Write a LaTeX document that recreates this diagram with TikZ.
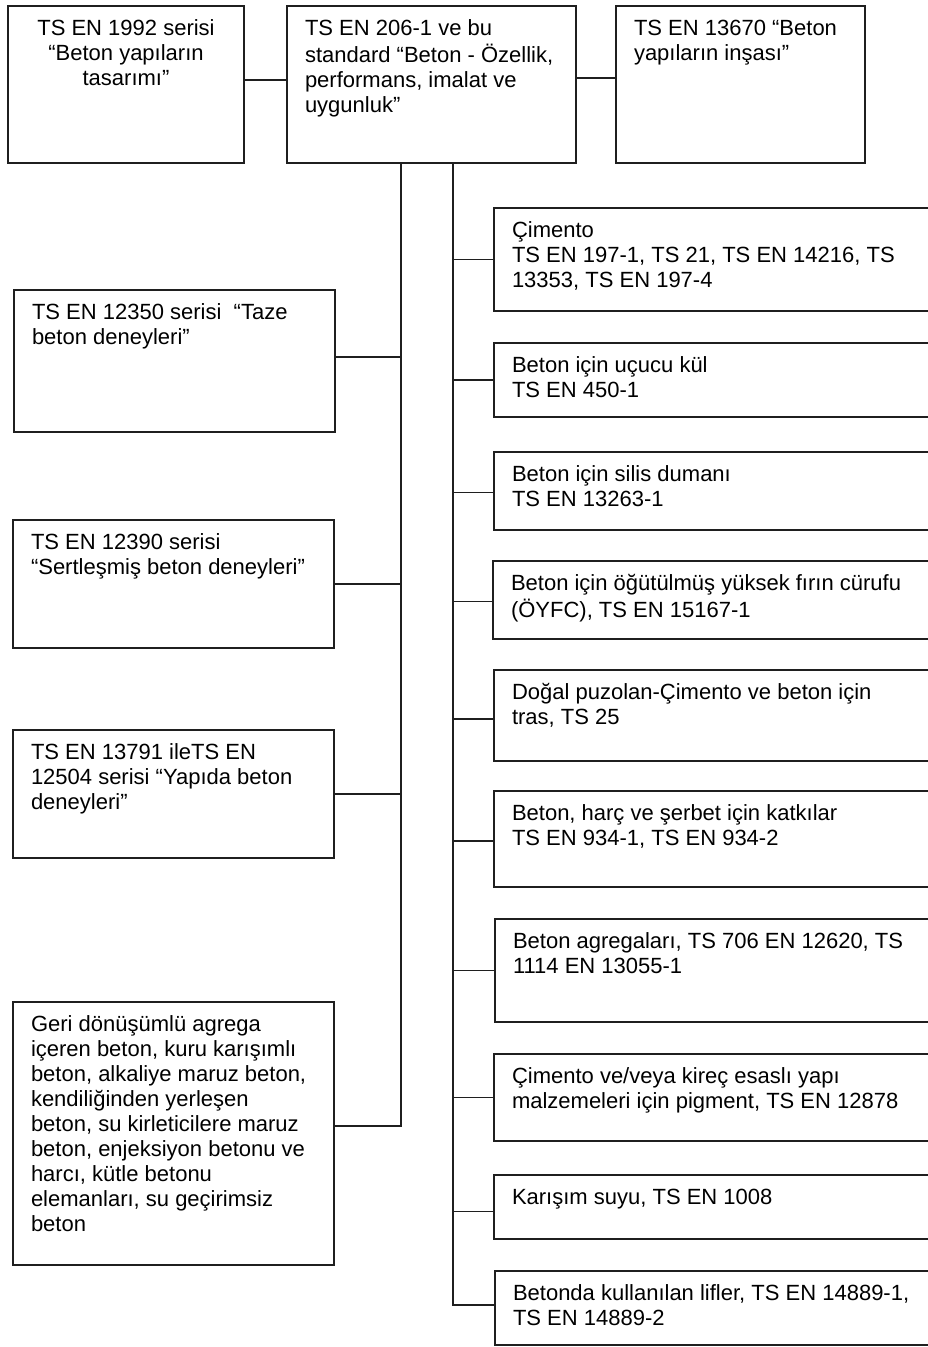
\documentclass[tikz,border=0pt]{standalone}
\usepackage{fontspec}
\setmainfont{Liberation Sans}
\begin{document}
\begin{tikzpicture}[x=1pt,y=-1pt,
  box/.style={draw=black!88, line width=1.2pt, rectangle, inner sep=0pt, outer sep=0pt, anchor=north west},
  label/.style={inner sep=0pt, outer sep=0pt, align=left, anchor=north west, font=\fontsize{22}{25}\selectfont},
  link/.style={draw=black!88, line width=1.2pt}]
\useasboundingbox (0,0) rectangle (928,1347);
\fill[white] (0,0) rectangle (928,1347);
\clip (0,0) rectangle (928,1347);

% top row
\node[box, minimum width=236pt, minimum height=157pt] (A) at (8,6) {};
\node[box, minimum width=289pt, minimum height=157pt] (B) at (287,6) {};
\node[box, minimum width=249pt, minimum height=157pt] (C) at (616,6) {};
\node[label, align=center, anchor=north] (At) at (126,18) {\strut TS EN 1992 serisi\\“Beton yapıların\\tasarımı”};
\node[label] (Bt) at (305,18) {\strut TS EN 206-1 ve bu\\standard “Beton - Özellik,\\performans, imalat ve\\uygunluk”};
\node[label] (Ct) at (634,18) {\strut TS EN 13670 “Beton\\yapıların inşası”};

% left column: test standards
\node[box, minimum width=321pt, minimum height=142pt] (L1) at (14,290) {};
\node[box, minimum width=321pt, minimum height=128pt] (L2) at (13,520) {};
\node[box, minimum width=321pt, minimum height=128pt] (L3) at (13,730) {};
\node[box, minimum width=321pt, minimum height=263pt] (L4) at (13,1002) {};
\node[label] (L1t) at (32,302) {\strut TS EN 12350 serisi\ \ “Taze\\beton deneyleri”};
\node[label] (L2t) at (31,532) {\strut TS EN 12390 serisi\\“Sertleşmiş beton deneyleri”};
\node[label] (L3t) at (31,742) {\strut TS EN 13791 ileTS EN\\12504 serisi “Yapıda beton\\deneyleri”};
\node[label] (L4t) at (31,1014) {\strut Geri dönüşümlü agrega\\içeren beton, kuru karışımlı\\beton, alkaliye maruz beton,\\kendiliğinden yerleşen\\beton, su kirleticilere maruz\\beton, enjeksiyon betonu ve\\harcı, kütle betonu\\elemanları, su geçirimsiz\\beton};

% right column: constituent materials
\node[box, minimum width=456pt, minimum height=103pt] (R1) at (494,208) {};
\node[box, minimum width=456pt, minimum height=74pt] (R2) at (494,343) {};
\node[box, minimum width=456pt, minimum height=78pt] (R3) at (494,452) {};
\node[box, minimum width=457pt, minimum height=78pt] (R4) at (493,561) {};
\node[box, minimum width=456pt, minimum height=91pt] (R5) at (494,670) {};
\node[box, minimum width=456pt, minimum height=96pt] (R6) at (494,791) {};
\node[box, minimum width=455pt, minimum height=103pt] (R7) at (495,919) {};
\node[box, minimum width=456pt, minimum height=87pt] (R8) at (494,1054) {};
\node[box, minimum width=456pt, minimum height=64pt] (R9) at (494,1175) {};
\node[box, minimum width=455pt, minimum height=74pt] (R10) at (495,1271) {};
\node[label] (R1t) at (512,220) {\strut Çimento\\TS EN 197-1, TS 21, TS EN 14216, TS\\13353, TS EN 197-4};
\node[label] (R2t) at (512,355) {\strut Beton için uçucu kül\\TS EN 450-1};
\node[label] (R3t) at (512,464) {\strut Beton için silis dumanı\\TS EN 13263-1};
\node[label] (R4t) at (511,573) {\strut Beton için öğütülmüş yüksek fırın cürufu\\(ÖYFC), TS EN 15167-1};
\node[label] (R5t) at (512,682) {\strut Doğal puzolan-Çimento ve beton için\\tras, TS 25};
\node[label] (R6t) at (512,803) {\strut Beton, harç ve şerbet için katkılar\\TS EN 934-1, TS EN 934-2};
\node[label] (R7t) at (513,931) {\strut Beton agregaları, TS 706 EN 12620, TS\\1114 EN 13055-1};
\node[label] (R8t) at (512,1066) {\strut Çimento ve/veya kireç esaslı yapı\\malzemeleri için pigment, TS EN 12878};
\node[label] (R9t) at (512,1187) {\strut Karışım suyu, TS EN 1008};
\node[label] (R10t) at (513,1283) {\strut Betonda kullanılan lifler, TS EN 14889-1,\\TS EN 14889-2};

% links between the top boxes
\draw[link] ([yshift=4.5pt]A.east) -- ([yshift=4.5pt]A.east -| B.west);
\draw[link] ([yshift=6.5pt]B.east) -- ([yshift=6.5pt]B.east -| C.west);

% trunk lines ending at the last branch of each column
\coordinate (tl) at (401,1126);
\coordinate (tr) at (453,1305);
\draw[link] (B.south -| tl) -- (tl) -- (tl -| L4.east);
\draw[link] (B.south -| tr) -- (tr) -- (tr -| R10.west);

% left branches
\draw[link] ([yshift=4pt]L1.east) -- ([yshift=4pt]L1.east -| tl);
\draw[link] (L2.east) -- (L2.east -| tl);
\draw[link] (L3.east) -- (L3.east -| tl);

% right branches
\draw[link] (R1.west) -- (R1.west -| tr);
\draw[link] (R2.west) -- (R2.west -| tr);
\draw[link] ([yshift=-1.5pt]R3.west) -- ([yshift=-1.5pt]R3.west -| tr);
\draw[link] ([yshift=-1.5pt]R4.west) -- ([yshift=-1.5pt]R4.west -| tr);
\draw[link] ([yshift=-3.5pt]R5.west) -- ([yshift=-3.5pt]R5.west -| tr);
\draw[link] ([yshift=-2pt]R6.west) -- ([yshift=-2pt]R6.west -| tr);
\draw[link] (R7.west) -- (R7.west -| tr);
\draw[link] (R8.west) -- (R8.west -| tr);
\draw[link] ([yshift=-4.5pt]R9.west) -- ([yshift=-4.5pt]R9.west -| tr);
\end{tikzpicture}
\end{document}
